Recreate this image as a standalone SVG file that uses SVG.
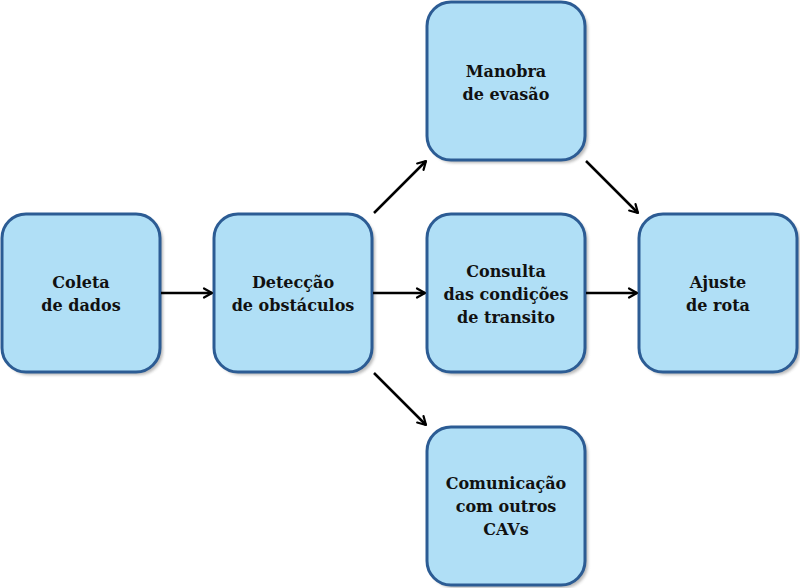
<svg xmlns="http://www.w3.org/2000/svg" width="800" height="588" viewBox="0 0 800 588">
<defs>
<filter id="sh" x="-10%" y="-10%" width="130%" height="130%"><feGaussianBlur stdDeviation="1.5"/></filter>
<marker id="ar" viewBox="0 0 12 12" refX="10" refY="6" markerWidth="12" markerHeight="12" markerUnits="userSpaceOnUse" orient="auto">
<path d="M2,1.5 L10,6 L2,10.5" fill="none" stroke="#000" stroke-width="2.2" stroke-linecap="round" stroke-linejoin="round"/>
</marker>
</defs>
<style>
.sh{fill:#8a8a8a;opacity:0.6;filter:url(#sh)}
.box{fill:#b0dff6;stroke:#2c5c94;stroke-width:3}
.t{font-family:'DejaVu Serif','Liberation Serif',serif;font-weight:bold;font-size:16px;text-anchor:middle;fill:#111}
.c{stroke:#000;stroke-width:2.5;fill:none;marker-end:url(#ar)}
</style>
<rect width="800" height="588" fill="#fff"/>
<g id="coleta">
<rect class="sh" x="5" y="217" width="158" height="158" rx="24"/>
<rect class="box" x="2" y="214" width="158" height="158" rx="24"/>
<text class="t" x="81" y="288">Coleta</text>
<text class="t" x="81" y="311">de dados</text>
</g>
<g id="deteccao">
<rect class="sh" x="217" y="217" width="158" height="158" rx="24"/>
<rect class="box" x="214" y="214" width="158" height="158" rx="24"/>
<text class="t" x="293" y="288">Detecção</text>
<text class="t" x="293" y="311">de obstáculos</text>
</g>
<g id="manobra">
<rect class="sh" x="430" y="5" width="158" height="158" rx="24"/>
<rect class="box" x="427" y="2" width="158" height="158" rx="24"/>
<text class="t" x="506" y="77">Manobra</text>
<text class="t" x="506" y="100">de evasão</text>
</g>
<g id="consulta">
<rect class="sh" x="430" y="217" width="158" height="158" rx="24"/>
<rect class="box" x="427" y="214" width="158" height="158" rx="24"/>
<text class="t" x="506" y="277">Consulta</text>
<text class="t" x="506" y="300">das condições</text>
<text class="t" x="506" y="323">de transito</text>
</g>
<g id="ajuste">
<rect class="sh" x="642" y="217" width="158" height="158" rx="24"/>
<rect class="box" x="639" y="214" width="158" height="158" rx="24"/>
<text class="t" x="718" y="288">Ajuste</text>
<text class="t" x="718" y="311">de rota</text>
</g>
<g id="comunicacao">
<rect class="sh" x="430" y="430" width="158" height="158" rx="24"/>
<rect class="box" x="427" y="427" width="158" height="158" rx="24"/>
<text class="t" x="506" y="489">Comunicação</text>
<text class="t" x="506" y="512">com outros</text>
<text class="t" x="506" y="535">CAVs</text>
</g>
<g id="connectors">
<line class="c" x1="161" y1="293" x2="212" y2="293"/>
<line class="c" x1="373" y1="293" x2="425" y2="293"/>
<line class="c" x1="586" y1="293" x2="637" y2="293"/>
<line class="c" x1="374" y1="213" x2="426" y2="161"/>
<line class="c" x1="374" y1="373" x2="426" y2="425"/>
<line class="c" x1="586" y1="161" x2="638" y2="213"/>
</g>
</svg>
